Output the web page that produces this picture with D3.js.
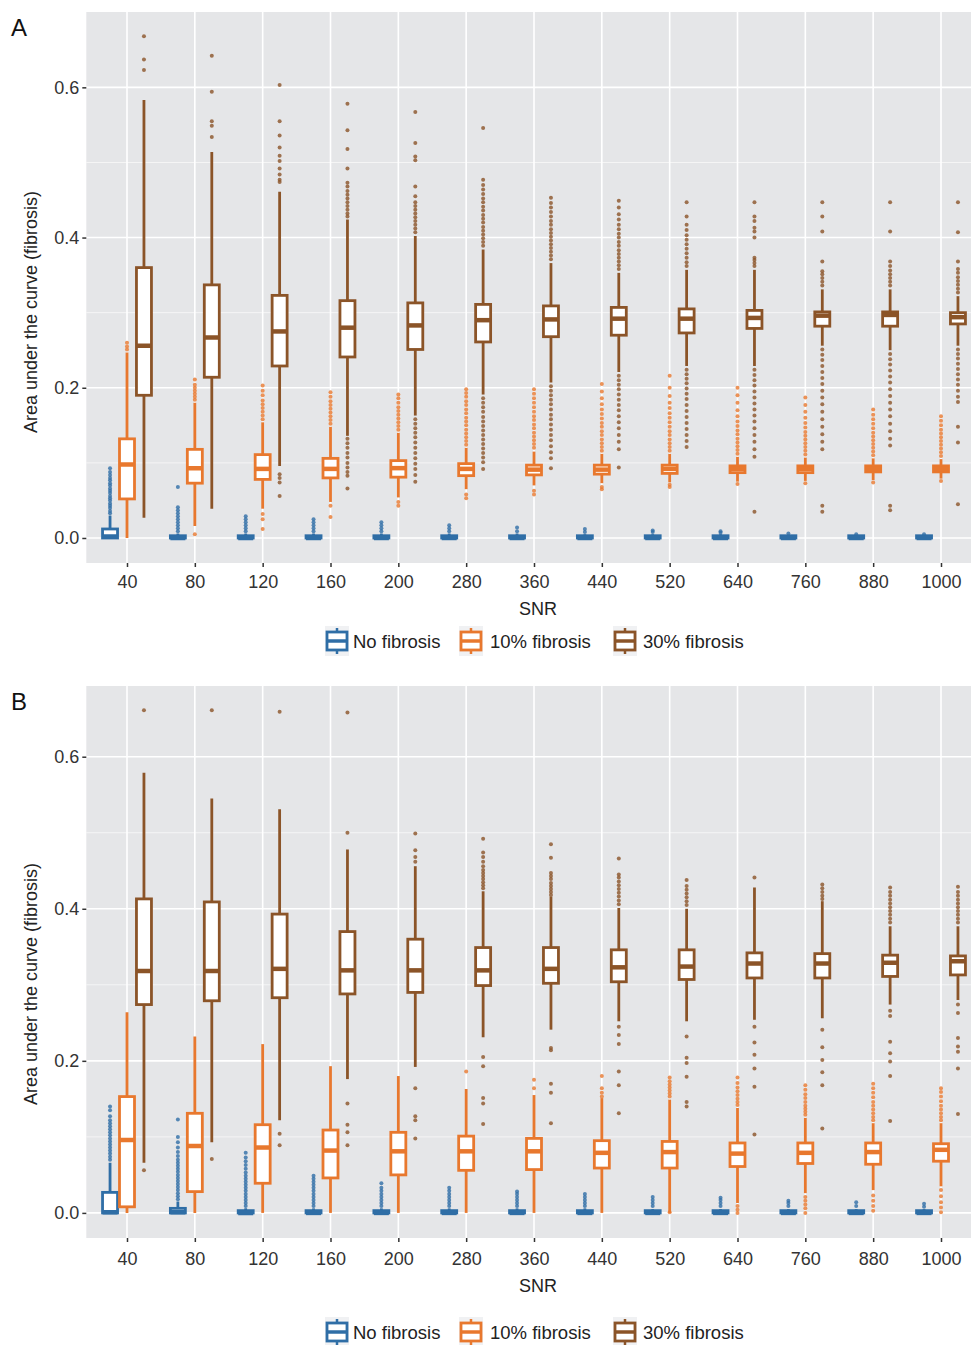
<!DOCTYPE html>
<meta charset="utf-8">
<style>
  body { margin: 0; background: #fff; font-family: "Liberation Sans", Arial, sans-serif; }
  .tick text { fill: #333; }
</style>
<body></body>
<script src="https://d3js.org/d3.v7.min.js"></script>
<script>
  // categories and groups
  var snr = ["40", "80", "120", "160", "200", "280", "360", "440", "520", "640", "760", "880", "1000"];
  var groups = ["No fibrosis", "10% fibrosis", "30% fibrosis"];
  var colors = ["#2f6ea6", "#e8782e", "#8b5428"];
  var yTicks = [0, 0.2, 0.4, 0.6];
  var yMinor = [0.1, 0.3, 0.5];

  // box stats: [lower whisker, q1, median, q3, upper whisker]
  // ---------- panel A ----------
  var aNoStats = [
    [0, 0, 0.002, 0.012, 0.03], [0, 0, 0, 0.003, 0.006], [0, 0, 0, 0.003, 0.006],
    [0, 0, 0, 0.003, 0.006], [0, 0, 0, 0.003, 0.006], [0, 0, 0, 0.003, 0.006],
    [0, 0, 0, 0.003, 0.006], [0, 0, 0, 0.003, 0.005], [0, 0, 0, 0.003, 0.005],
    [0, 0, 0, 0.003, 0.005], [0, 0, 0, 0.003, 0.004], [0, 0, 0, 0.003, 0.004], [0, 0, 0, 0.003, 0.004]
  ];
  var aNoOut = [
    [0.033, 0.036, 0.04, 0.043, 0.046, 0.05, 0.053, 0.056, 0.06, 0.063, 0.066, 0.07, 0.073, 0.077, 0.08, 0.084, 0.088, 0.093],
    [0.009, 0.013, 0.017, 0.021, 0.025, 0.029, 0.033, 0.037, 0.041, 0.068],
    [0.009, 0.013, 0.017, 0.021, 0.025, 0.029],
    [0.009, 0.013, 0.017, 0.021, 0.025],
    [0.009, 0.013, 0.017, 0.021],
    [0.009, 0.013, 0.017],
    [0.009, 0.014],
    [0.008, 0.012],
    [0.008, 0.01],
    [0.007, 0.009],
    [0.006],
    [0.005],
    [0.005]
  ];
  var aTenStats = [
    [0, 0.052, 0.098, 0.132, 0.247], [0.016, 0.073, 0.093, 0.118, 0.18], [0.039, 0.078, 0.092, 0.111, 0.154],
    [0.048, 0.08, 0.092, 0.106, 0.148], [0.054, 0.081, 0.093, 0.103, 0.14], [0.065, 0.083, 0.092, 0.099, 0.12],
    [0.07, 0.084, 0.091, 0.097, 0.115], [0.073, 0.085, 0.091, 0.097, 0.112], [0.074, 0.086, 0.092, 0.097, 0.112],
    [0.075, 0.087, 0.092, 0.096, 0.108], [0.076, 0.087, 0.092, 0.096, 0.107], [0.077, 0.088, 0.092, 0.096, 0.106],
    [0.079, 0.088, 0.092, 0.096, 0.105]
  ];
  var aTenOut = [
    [0.251, 0.255, 0.26],
    [0.005, 0.184, 0.188, 0.192, 0.196, 0.2, 0.204, 0.211],
    [0.012, 0.025, 0.032, 0.158, 0.163, 0.168, 0.173, 0.178, 0.183, 0.19, 0.196, 0.203],
    [0.028, 0.043, 0.152, 0.157, 0.162, 0.167, 0.172, 0.177, 0.182, 0.188, 0.194],
    [0.043, 0.048, 0.144, 0.149, 0.154, 0.159, 0.164, 0.169, 0.174, 0.18, 0.186, 0.191],
    [0.053, 0.058, 0.124, 0.129, 0.134, 0.139, 0.144, 0.15, 0.155, 0.16, 0.166, 0.171, 0.177, 0.182, 0.188, 0.193, 0.198],
    [0.058, 0.063, 0.12, 0.125, 0.13, 0.135, 0.14, 0.146, 0.151, 0.157, 0.162, 0.168, 0.174, 0.18, 0.186, 0.192, 0.198],
    [0.065, 0.068, 0.116, 0.121, 0.126, 0.131, 0.137, 0.142, 0.148, 0.153, 0.159, 0.165, 0.171, 0.178, 0.186, 0.195, 0.205],
    [0.068, 0.071, 0.116, 0.121, 0.126, 0.131, 0.137, 0.142, 0.148, 0.154, 0.16, 0.166, 0.173, 0.18, 0.189, 0.2, 0.216],
    [0.072, 0.112, 0.117, 0.122, 0.127, 0.132, 0.138, 0.143, 0.149, 0.155, 0.162, 0.17, 0.18, 0.19, 0.2],
    [0.073, 0.111, 0.116, 0.121, 0.126, 0.131, 0.136, 0.141, 0.147, 0.153, 0.16, 0.168, 0.177, 0.187],
    [0.074, 0.11, 0.115, 0.12, 0.125, 0.13, 0.135, 0.14, 0.146, 0.152, 0.158, 0.164, 0.171],
    [0.076, 0.109, 0.114, 0.119, 0.124, 0.129, 0.134, 0.139, 0.144, 0.15, 0.156, 0.162]
  ];
  var aThirtyStats = [
    [0.027, 0.19, 0.256, 0.36, 0.583], [0.039, 0.214, 0.267, 0.337, 0.514], [0.096, 0.229, 0.275, 0.323, 0.461],
    [0.136, 0.241, 0.28, 0.316, 0.424], [0.163, 0.251, 0.283, 0.313, 0.402], [0.191, 0.261, 0.29, 0.311, 0.384],
    [0.207, 0.268, 0.291, 0.309, 0.366], [0.221, 0.27, 0.292, 0.307, 0.353], [0.229, 0.273, 0.292, 0.305, 0.357],
    [0.229, 0.279, 0.293, 0.303, 0.357], [0.256, 0.282, 0.296, 0.301, 0.331], [0.25, 0.282, 0.297, 0.301, 0.331],
    [0.256, 0.285, 0.294, 0.3, 0.322]
  ];
  var aThirtyOut = [
    [0.623, 0.637, 0.668],
    [0.534, 0.549, 0.555, 0.594, 0.642],
    [0.474, 0.477, 0.484, 0.492, 0.502, 0.509, 0.52, 0.536, 0.555, 0.603, 0.085, 0.08, 0.074, 0.056],
    [0.428, 0.432, 0.437, 0.442, 0.447, 0.452, 0.457, 0.462, 0.468, 0.473, 0.492, 0.518, 0.543, 0.578,
      0.132, 0.126, 0.12, 0.113, 0.107, 0.1, 0.094, 0.088, 0.083, 0.066],
    [0.407, 0.412, 0.417, 0.422, 0.427, 0.432, 0.437, 0.442, 0.447, 0.455, 0.468, 0.503, 0.508, 0.526, 0.567,
      0.158, 0.152, 0.146, 0.14, 0.134, 0.127, 0.12, 0.113, 0.106, 0.099, 0.092, 0.084, 0.075],
    [0.389, 0.394, 0.399, 0.404, 0.409, 0.414, 0.42, 0.425, 0.43, 0.436, 0.441, 0.447, 0.452, 0.458, 0.464, 0.47, 0.477, 0.546,
      0.186, 0.18, 0.174, 0.168, 0.161, 0.155, 0.149, 0.143, 0.137, 0.131, 0.125, 0.119, 0.113, 0.107, 0.101, 0.092],
    [0.371, 0.376, 0.381, 0.386, 0.391, 0.396, 0.401, 0.406, 0.411, 0.417, 0.422, 0.428, 0.434, 0.44, 0.446, 0.453,
      0.202, 0.196, 0.19, 0.184, 0.178, 0.171, 0.164, 0.158, 0.151, 0.144, 0.137, 0.13, 0.122, 0.114, 0.106, 0.093],
    [0.358, 0.363, 0.368, 0.373, 0.378, 0.383, 0.389, 0.394, 0.4, 0.405, 0.411, 0.417, 0.424, 0.431, 0.44, 0.449,
      0.216, 0.21, 0.204, 0.198, 0.191, 0.184, 0.177, 0.17, 0.162, 0.154, 0.146, 0.137, 0.128, 0.118, 0.094],
    [0.362, 0.367, 0.373, 0.379, 0.385, 0.391, 0.397, 0.403, 0.41, 0.417, 0.428, 0.447,
      0.224, 0.218, 0.212, 0.206, 0.199, 0.192, 0.185, 0.177, 0.169, 0.161, 0.153, 0.145, 0.137, 0.129, 0.121],
    [0.362, 0.366, 0.37, 0.373, 0.4, 0.408, 0.413, 0.422, 0.428, 0.447,
      0.224, 0.217, 0.21, 0.203, 0.195, 0.187, 0.179, 0.171, 0.163, 0.155, 0.146, 0.137, 0.128, 0.118, 0.108, 0.035],
    [0.336, 0.341, 0.346, 0.351, 0.355, 0.368, 0.408, 0.428, 0.447,
      0.251, 0.244, 0.237, 0.229, 0.221, 0.213, 0.205, 0.196, 0.187, 0.178, 0.168, 0.158, 0.148, 0.138, 0.128, 0.118, 0.043, 0.035],
    [0.336, 0.341, 0.346, 0.351, 0.356, 0.362, 0.368, 0.408, 0.447,
      0.245, 0.238, 0.231, 0.223, 0.215, 0.207, 0.198, 0.189, 0.18, 0.171, 0.162, 0.152, 0.142, 0.132, 0.123, 0.043, 0.037],
    [0.327, 0.332, 0.337, 0.342, 0.347, 0.353, 0.358, 0.368, 0.407, 0.447,
      0.251, 0.245, 0.239, 0.232, 0.225, 0.218, 0.211, 0.204, 0.196, 0.188, 0.181, 0.148, 0.127, 0.045]
  ];

  // ---------- panel B ----------
  var bNoStats = [
    [0, 0, 0.001, 0.027, 0.066], [0, 0, 0.001, 0.006, 0.015], [0, 0, 0, 0.003, 0.006],
    [0, 0, 0, 0.003, 0.006], [0, 0, 0, 0.003, 0.006], [0, 0, 0, 0.003, 0.006],
    [0, 0, 0, 0.003, 0.006], [0, 0, 0, 0.003, 0.006], [0, 0, 0, 0.003, 0.005],
    [0, 0, 0, 0.003, 0.005], [0, 0, 0, 0.003, 0.005], [0, 0, 0, 0.003, 0.005], [0, 0, 0, 0.003, 0.005]
  ];
  var bNoOut = [
    [0.07, 0.074, 0.078, 0.082, 0.086, 0.09, 0.094, 0.098, 0.102, 0.106, 0.11, 0.114, 0.118, 0.122, 0.127, 0.135, 0.14],
    [0.018, 0.022, 0.026, 0.03, 0.034, 0.038, 0.042, 0.046, 0.05, 0.054, 0.058, 0.062, 0.066, 0.07, 0.075, 0.08, 0.086, 0.093, 0.1, 0.123],
    [0.009, 0.013, 0.017, 0.021, 0.025, 0.029, 0.033, 0.037, 0.041, 0.045, 0.049, 0.053, 0.058, 0.063, 0.068, 0.073, 0.079],
    [0.009, 0.013, 0.017, 0.021, 0.025, 0.029, 0.033, 0.037, 0.041, 0.045, 0.049],
    [0.009, 0.013, 0.017, 0.021, 0.025, 0.029, 0.033, 0.039],
    [0.009, 0.013, 0.017, 0.021, 0.025, 0.029, 0.033],
    [0.009, 0.013, 0.017, 0.021, 0.025, 0.028],
    [0.009, 0.013, 0.017, 0.021, 0.025],
    [0.009, 0.013, 0.017, 0.021],
    [0.009, 0.013, 0.017, 0.02],
    [0.009, 0.013, 0.016],
    [0.009, 0.014],
    [0.008, 0.012]
  ];
  var bTenStats = [
    [0, 0.008, 0.096, 0.153, 0.264], [0, 0.028, 0.088, 0.131, 0.232], [0, 0.039, 0.086, 0.116, 0.222],
    [0, 0.046, 0.082, 0.109, 0.193], [0, 0.05, 0.081, 0.106, 0.18], [0, 0.056, 0.081, 0.101, 0.163],
    [0, 0.057, 0.081, 0.098, 0.155], [0, 0.059, 0.079, 0.095, 0.151], [0, 0.059, 0.08, 0.094, 0.149],
    [0.013, 0.061, 0.078, 0.092, 0.138], [0.026, 0.065, 0.079, 0.092, 0.125], [0.03, 0.064, 0.08, 0.092, 0.118],
    [0.035, 0.068, 0.083, 0.091, 0.118]
  ];
  var bTenOut = [
    [], [], [], [], [],
    [0.186],
    [0.164, 0.175],
    [0.153, 0.158, 0.164, 0.18],
    [0.153, 0.157, 0.161, 0.165, 0.169, 0.173, 0.178, 0.001],
    [0.142, 0.146, 0.15, 0.155, 0.16, 0.165, 0.171, 0.178, 0.009, 0.004, 0.0],
    [0.129, 0.133, 0.137, 0.141, 0.146, 0.151, 0.156, 0.162, 0.168, 0.021, 0.016, 0.011, 0.006, 0.0],
    [0.122, 0.126, 0.131, 0.136, 0.141, 0.146, 0.152, 0.158, 0.164, 0.17, 0.023, 0.016, 0.009, 0.003],
    [0.122, 0.126, 0.131, 0.136, 0.141, 0.147, 0.153, 0.159, 0.164, 0.03, 0.022, 0.014, 0.007, 0.001]
  ];
  var bThirtyStats = [
    [0.066, 0.274, 0.318, 0.413, 0.579], [0.093, 0.279, 0.318, 0.409, 0.545], [0.122, 0.283, 0.321, 0.393, 0.531],
    [0.176, 0.288, 0.319, 0.37, 0.478], [0.192, 0.29, 0.319, 0.36, 0.456], [0.231, 0.299, 0.319, 0.349, 0.423],
    [0.241, 0.302, 0.321, 0.349, 0.416], [0.252, 0.304, 0.323, 0.346, 0.401], [0.252, 0.307, 0.324, 0.346, 0.4],
    [0.254, 0.309, 0.328, 0.342, 0.428], [0.256, 0.309, 0.328, 0.341, 0.41], [0.274, 0.311, 0.329, 0.339, 0.377],
    [0.28, 0.313, 0.331, 0.338, 0.377]
  ];
  var bThirtyOut = [
    [0.661, 0.056],
    [0.661, 0.071],
    [0.659, 0.104, 0.089],
    [0.658, 0.5, 0.144, 0.116, 0.106, 0.089],
    [0.499, 0.477, 0.468, 0.462, 0.164, 0.127, 0.122, 0.098],
    [0.492, 0.474, 0.468, 0.462, 0.456, 0.451, 0.447, 0.443, 0.439, 0.435, 0.431, 0.427, 0.205, 0.193, 0.151, 0.144, 0.117],
    [0.485, 0.467, 0.447, 0.443, 0.439, 0.434, 0.43, 0.426, 0.422, 0.418, 0.217, 0.214, 0.17, 0.158, 0.118],
    [0.466, 0.445, 0.441, 0.436, 0.431, 0.426, 0.421, 0.416, 0.411, 0.406, 0.245, 0.234, 0.222, 0.186, 0.168, 0.131],
    [0.438, 0.43, 0.425, 0.42, 0.415, 0.41, 0.405, 0.232, 0.204, 0.197, 0.179, 0.146, 0.14],
    [0.441, 0.245, 0.224, 0.208, 0.19, 0.166, 0.103],
    [0.432, 0.427, 0.422, 0.417, 0.413, 0.241, 0.218, 0.201, 0.185, 0.168, 0.111],
    [0.382, 0.387, 0.392, 0.397, 0.402, 0.407, 0.412, 0.417, 0.422, 0.428, 0.266, 0.259, 0.225, 0.21, 0.199, 0.18, 0.121],
    [0.382, 0.387, 0.392, 0.397, 0.402, 0.407, 0.412, 0.417, 0.422, 0.429, 0.274, 0.263, 0.23, 0.219, 0.212, 0.19, 0.13]
  ];

  var W = 971, H = 1345;
  var svg = d3.select("body").append("svg").attr("width", W).attr("height", H);

  var x = d3.scalePoint().domain(snr).range([127, 941]);
  var step = x.step();
  var dodge = step * 0.25;
  var boxW = 15;
  var panelLeft = 127 - step * 0.6, panelRight = 941 + step * 0.6;

  var panels = [
    { label: "A", top: 12, bottom: 563, ydom: [-0.0333, 0.7003], titleY: 312, tickY: 588, snrY: 615, legY: 641,
      series: [[aNoStats, aNoOut], [aTenStats, aTenOut], [aThirtyStats, aThirtyOut]] },
    { label: "B", top: 686, bottom: 1238, ydom: [-0.033, 0.693], titleY: 984, tickY: 1265, snrY: 1292, legY: 1332,
      series: [[bNoStats, bNoOut], [bTenStats, bTenOut], [bThirtyStats, bThirtyOut]] }
  ];

  panels.forEach(function(p, pi) {
    var y = d3.scaleLinear().domain(p.ydom).range([p.bottom, p.top]);
    var g = svg.append("g");

    svg.append("defs").append("clipPath").attr("id", "clip" + pi)
      .append("rect").attr("x", panelLeft).attr("y", p.top)
      .attr("width", panelRight - panelLeft).attr("height", p.bottom - p.top);

    // panel background and grid
    g.append("rect").attr("x", panelLeft).attr("y", p.top)
      .attr("width", panelRight - panelLeft).attr("height", p.bottom - p.top)
      .attr("fill", "#e5e6e8");
    g.selectAll(".minor").data(yMinor).enter().append("line")
      .attr("x1", panelLeft).attr("x2", panelRight)
      .attr("y1", function(d) { return y(d); }).attr("y2", function(d) { return y(d); })
      .attr("stroke", "#fff").attr("stroke-width", 0.8).attr("opacity", 0.8);
    g.selectAll(".major").data(yTicks).enter().append("line")
      .attr("x1", panelLeft).attr("x2", panelRight)
      .attr("y1", function(d) { return y(d); }).attr("y2", function(d) { return y(d); })
      .attr("stroke", "#fff").attr("stroke-width", 1.6);
    g.selectAll(".vgrid").data(snr).enter().append("line")
      .attr("x1", function(d) { return x(d); }).attr("x2", function(d) { return x(d); })
      .attr("y1", p.top).attr("y2", p.bottom)
      .attr("stroke", "#fff").attr("stroke-width", 1.6);

    // boxes
    var marks = g.append("g").attr("clip-path", "url(#clip" + pi + ")");
    p.series.forEach(function(s, gi) {
      var col = colors[gi];
      var off = (gi - 1) * dodge;
      var stats = s[0], outs = s[1];
      snr.forEach(function(c, ci) {
        var cx = x(c) + off, st = stats[ci];
        var bg = marks.append("g");
        bg.selectAll("circle").data(outs[ci]).enter().append("circle")
          .attr("cx", cx).attr("cy", function(d) { return y(d); }).attr("r", 2)
          .attr("fill", col).attr("opacity", 0.8);
        bg.append("line").attr("x1", cx).attr("x2", cx)
          .attr("y1", y(st[0])).attr("y2", y(st[4]))
          .attr("stroke", col).attr("stroke-width", 2.8);
        bg.append("rect").attr("x", cx - boxW / 2).attr("y", y(st[3]))
          .attr("width", boxW).attr("height", Math.max(0.5, y(st[1]) - y(st[3])))
          .attr("fill", "#fff").attr("stroke", col).attr("stroke-width", 2.8);
        bg.append("line").attr("x1", cx - boxW / 2).attr("x2", cx + boxW / 2)
          .attr("y1", y(st[2])).attr("y2", y(st[2]))
          .attr("stroke", col).attr("stroke-width", 4.5);
      });
    });

    // axes
    var ya = svg.append("g").attr("transform", "translate(" + panelLeft + ",0)")
      .call(d3.axisLeft(y).tickValues(yTicks).tickFormat(d3.format(".1f")).tickSize(4).tickPadding(3));
    ya.select(".domain").remove();
    ya.selectAll("line").attr("stroke", "#333").attr("stroke-width", 1.5);
    ya.selectAll("text").attr("font-size", 18).attr("font-family", "Liberation Sans, Arial, sans-serif");

    var xa = svg.append("g").attr("transform", "translate(0," + p.bottom + ")")
      .call(d3.axisBottom(x).tickSize(4).tickPadding(4));
    xa.select(".domain").remove();
    xa.selectAll("line").attr("stroke", "#333").attr("stroke-width", 1.5);
    xa.selectAll("text").attr("font-size", 18).attr("font-family", "Liberation Sans, Arial, sans-serif")
      .attr("dy", null).attr("y", p.tickY - p.bottom);

    svg.append("text").attr("x", 538).attr("y", p.snrY)
      .attr("text-anchor", "middle").attr("font-size", 18).attr("fill", "#222").text("SNR");

    svg.append("text").attr("transform", "translate(37," + p.titleY + ") rotate(-90)")
      .attr("text-anchor", "middle").attr("font-size", 18).attr("fill", "#222")
      .text("Area under the curve (fibrosis)");

    svg.append("text").attr("x", 11).attr("y", p.top + 24).attr("font-size", 24).attr("fill", "#111")
      .text(p.label);

    // legend
    var keyX = [337, 471, 625], textX = [353, 490, 643];
    groups.forEach(function(name, gi) {
      var lg = svg.append("g");
      var kx = keyX[gi], ky = p.legY, col = colors[gi];
      lg.append("rect").attr("x", kx - 12).attr("y", ky - 15).attr("width", 24).attr("height", 30)
        .attr("fill", "#f0f1f3");
      lg.append("line").attr("x1", kx).attr("x2", kx).attr("y1", ky - 13).attr("y2", ky + 13)
        .attr("stroke", col).attr("stroke-width", 2.5);
      lg.append("rect").attr("x", kx - 10).attr("y", ky - 9).attr("width", 20).attr("height", 18)
        .attr("fill", "#fff").attr("stroke", col).attr("stroke-width", 2.8);
      lg.append("line").attr("x1", kx - 10).attr("x2", kx + 10).attr("y1", ky).attr("y2", ky)
        .attr("stroke", col).attr("stroke-width", 3.5);
      lg.append("text").attr("x", textX[gi]).attr("y", ky + 7).attr("font-size", 18.5).attr("fill", "#222")
        .text(name);
    });
  });
</script>
